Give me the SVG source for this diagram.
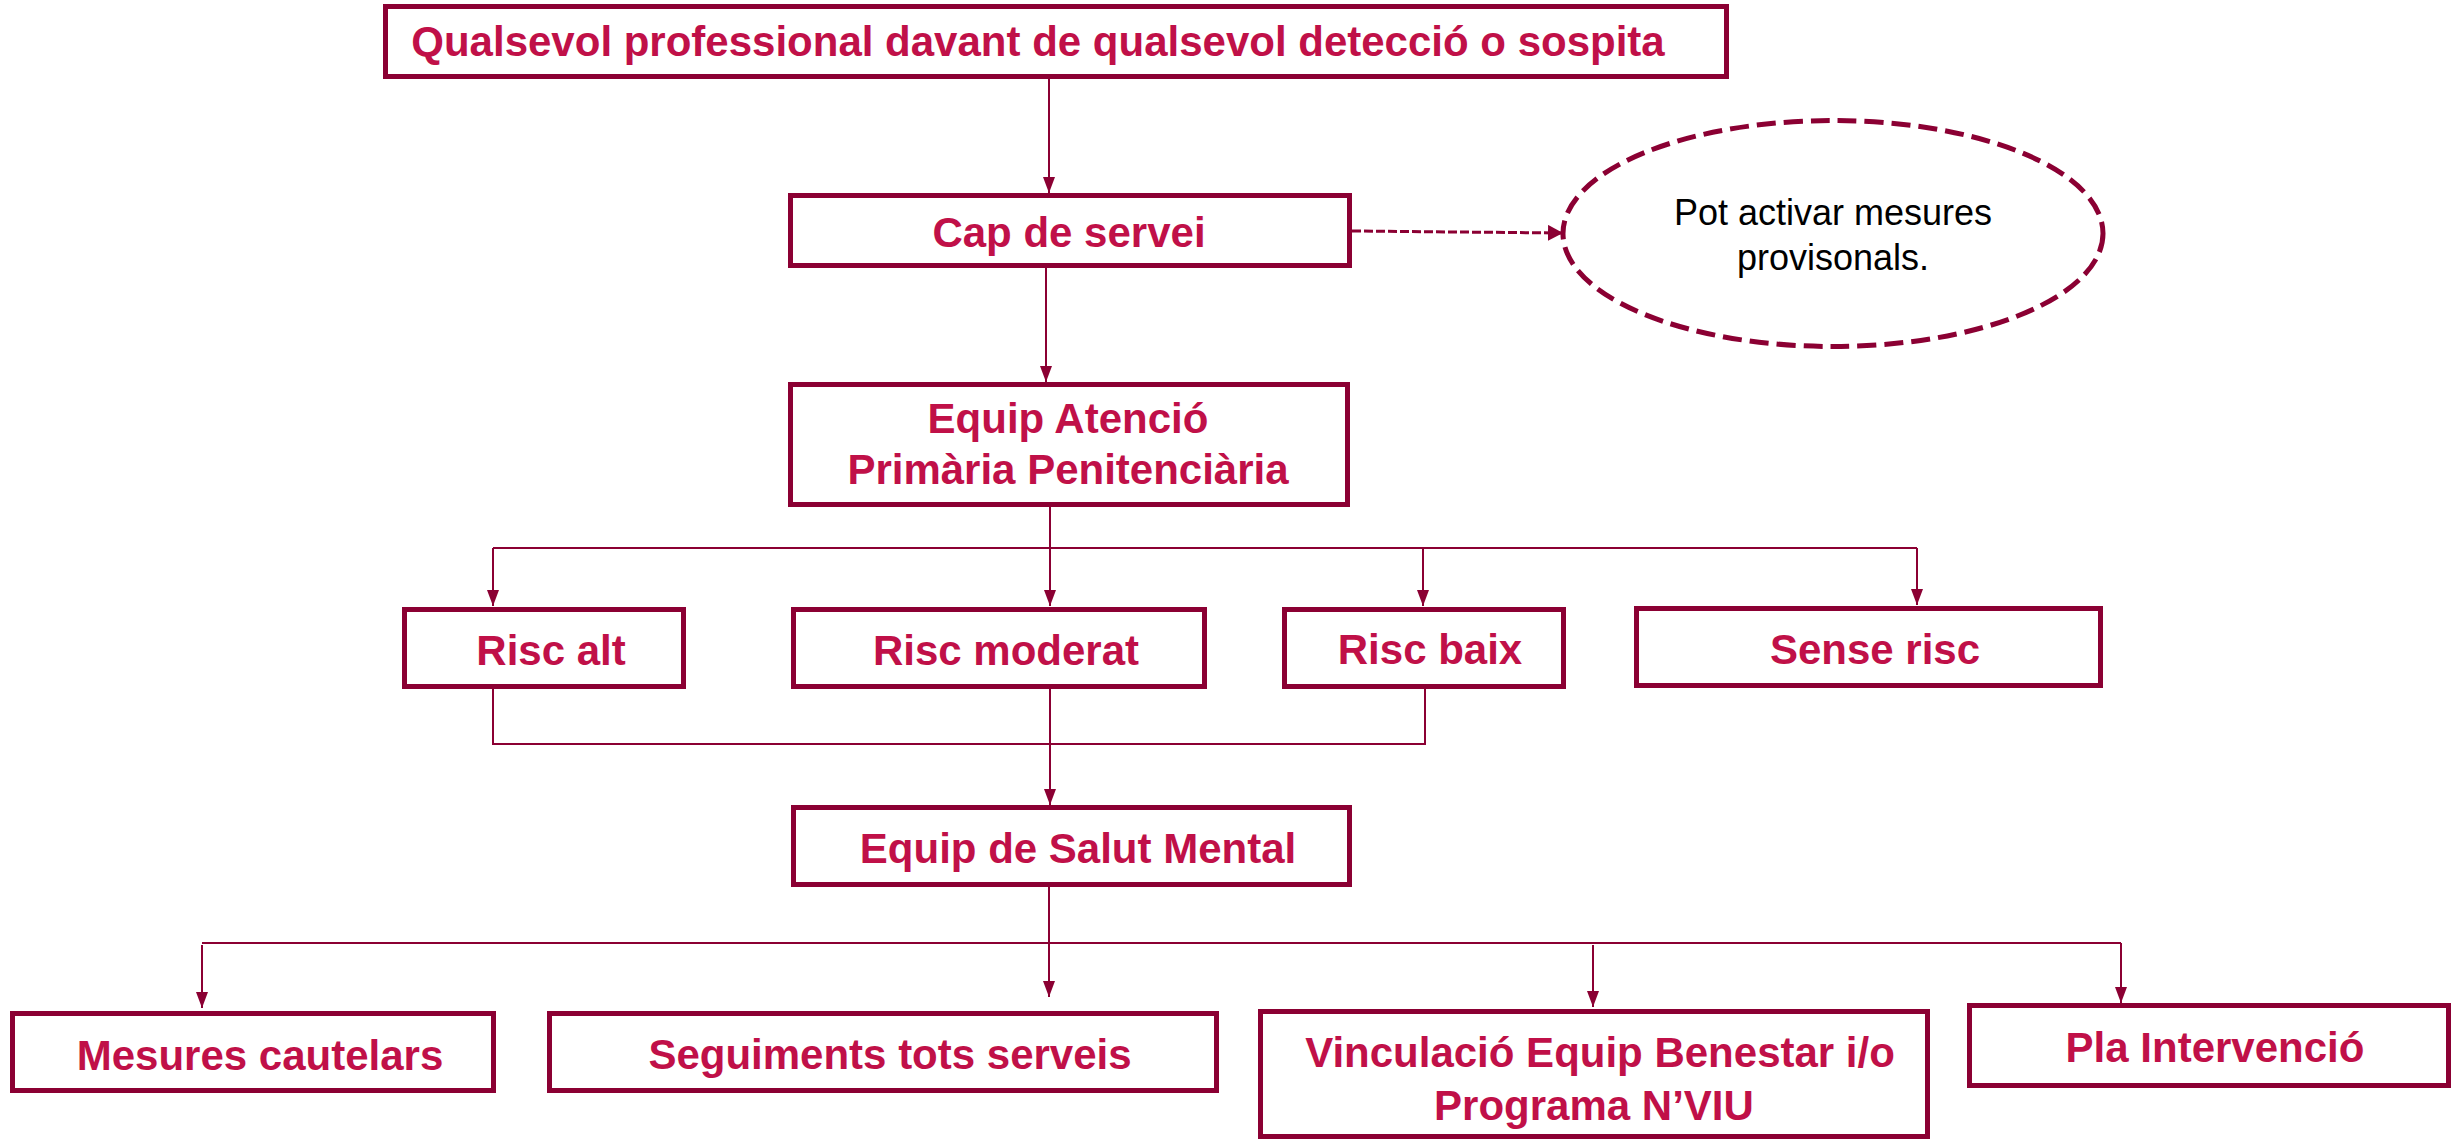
<svg xmlns="http://www.w3.org/2000/svg" width="2456" height="1140" viewBox="0 0 2456 1140">
<defs>
<style>
.box{fill:#fff;stroke:#8B0033;stroke-width:5}
.t{font-family:"Liberation Sans",Arial,sans-serif;font-weight:bold;font-size:42px;fill:#C01048;text-anchor:middle}
.n{font-family:"Liberation Sans",Arial,sans-serif;font-size:36px;fill:#000;text-anchor:middle}
.c{fill:none;stroke:#8B0033;stroke-width:2}
.d{fill:none;stroke:#8B0033;stroke-width:3;stroke-dasharray:9 3}
</style>
<marker id="ah" markerUnits="userSpaceOnUse" markerWidth="16" markerHeight="12" refX="16" refY="6" orient="auto">
<path d="M0,0 L16,6 L0,12 Z" fill="#8B0033"/>
</marker>
<marker id="ahd" markerUnits="userSpaceOnUse" markerWidth="15" markerHeight="16" refX="15" refY="8" orient="auto">
<path d="M0,0 L15,8 L0,16 Z" fill="#8B0033"/>
</marker>
</defs>
<rect width="2456" height="1140" fill="#fff"/>
<g id="connectors">
<line class="c" x1="1049" y1="79" x2="1049" y2="193" marker-end="url(#ah)"/>
<line class="c" x1="1046" y1="268" x2="1046" y2="382" marker-end="url(#ah)"/>
<line class="d" x1="1352" y1="231" x2="1563" y2="233" marker-end="url(#ahd)"/>
<line class="c" x1="1050" y1="507" x2="1050" y2="606" marker-end="url(#ah)"/>
<line class="c" x1="493" y1="548" x2="1917" y2="548"/>
<line class="c" x1="493" y1="548" x2="493" y2="606" marker-end="url(#ah)"/>
<line class="c" x1="1423" y1="548" x2="1423" y2="606" marker-end="url(#ah)"/>
<line class="c" x1="1917" y1="548" x2="1917" y2="605" marker-end="url(#ah)"/>
<polyline class="c" points="493,689 493,744 1425,744 1425,689"/>
<line class="c" x1="1050" y1="689" x2="1050" y2="805" marker-end="url(#ah)"/>
<line class="c" x1="1049" y1="887" x2="1049" y2="997" marker-end="url(#ah)"/>
<line class="c" x1="202" y1="943" x2="2121" y2="943"/>
<line class="c" x1="202" y1="945" x2="202" y2="1008" marker-end="url(#ah)"/>
<line class="c" x1="1593" y1="945" x2="1593" y2="1007" marker-end="url(#ah)"/>
<line class="c" x1="2121" y1="943" x2="2121" y2="1003" marker-end="url(#ah)"/>
</g>
<g id="n-top"><rect class="box" x="385.5" y="6.5" width="1341" height="70"/><text class="t" x="1038" y="56">Qualsevol professional davant de qualsevol detecció o sospita</text></g>
<g id="n-cap"><rect class="box" x="790.5" y="195.5" width="559" height="70"/><text class="t" x="1069" y="247">Cap de servei</text></g>
<g id="n-note"><ellipse cx="1833" cy="233.5" rx="270" ry="113" fill="#fff" stroke="#8B0033" stroke-width="5" stroke-dasharray="19 8"/><text class="n" x="1833" y="225">Pot activar mesures</text><text class="n" x="1833" y="270">provisonals.</text></g>
<g id="n-eap"><rect class="box" x="790.5" y="384.5" width="557" height="120"/><text class="t" x="1068" y="433">Equip Atenció</text><text class="t" x="1068" y="484">Primària Penitenciària</text></g>
<g id="n-alt"><rect class="box" x="404.5" y="609.5" width="279" height="77"/><text class="t" x="551" y="665">Risc alt</text></g>
<g id="n-mod"><rect class="box" x="793.5" y="609.5" width="411" height="77"/><text class="t" x="1006" y="665">Risc moderat</text></g>
<g id="n-baix"><rect class="box" x="1284.5" y="609.5" width="279" height="77"/><text class="t" x="1430" y="664">Risc baix</text></g>
<g id="n-sense"><rect class="box" x="1636.5" y="608.5" width="464" height="77"/><text class="t" x="1875" y="664">Sense risc</text></g>
<g id="n-esm"><rect class="box" x="793.5" y="807.5" width="556" height="77"/><text class="t" x="1078" y="863">Equip de Salut Mental</text></g>
<g id="n-mes"><rect class="box" x="12.5" y="1013.5" width="481" height="77"/><text class="t" x="260" y="1070">Mesures cautelars</text></g>
<g id="n-seg"><rect class="box" x="549.5" y="1013.5" width="667" height="77"/><text class="t" x="890" y="1069">Seguiments tots serveis</text></g>
<g id="n-vin"><rect class="box" x="1260.5" y="1011.5" width="667" height="125"/><text class="t" x="1600" y="1067">Vinculació Equip Benestar i/o</text><text class="t" x="1594" y="1120">Programa N’VIU</text></g>
<g id="n-pla"><rect class="box" x="1969.5" y="1005.5" width="479" height="80"/><text class="t" x="2215" y="1062">Pla Intervenció</text></g>
</svg>
